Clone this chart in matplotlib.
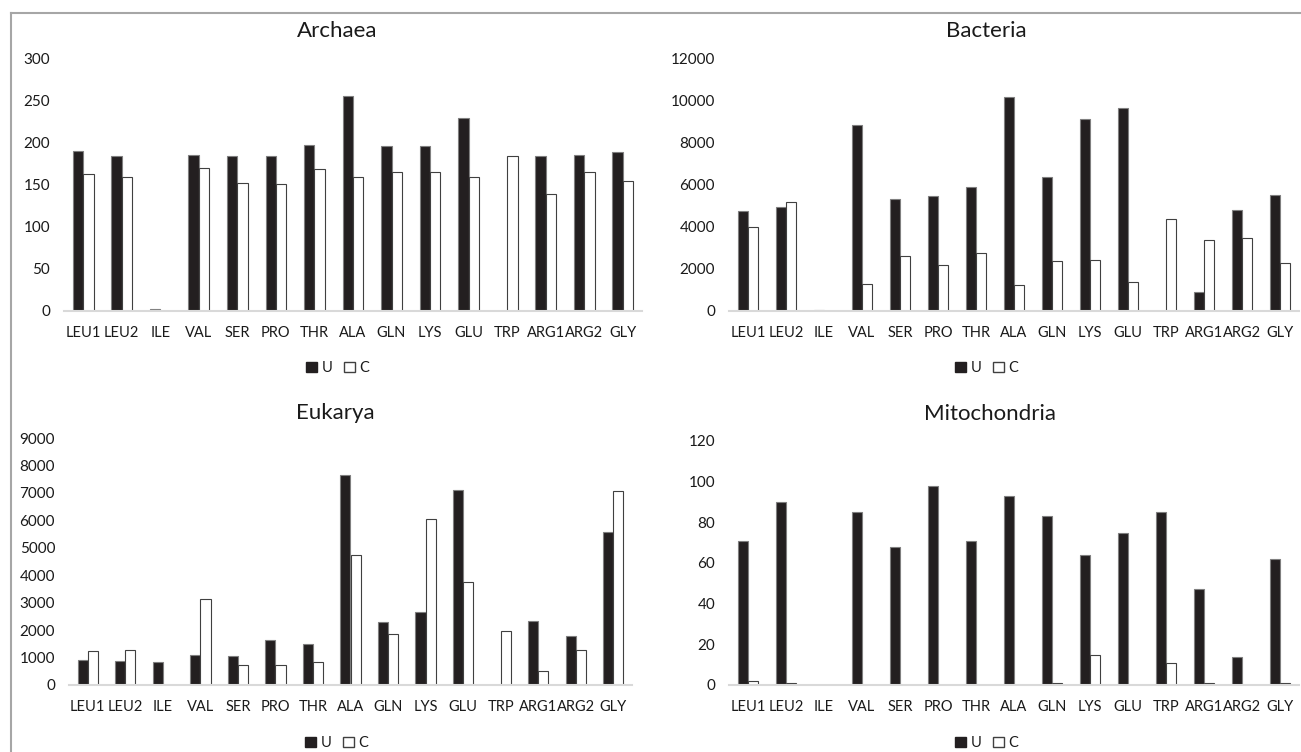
import matplotlib
matplotlib.use("Agg")
from matplotlib import pyplot as plt
from matplotlib.patches import Patch
from matplotlib.lines import Line2D
import numpy as np

plt.rcParams['font.family'] = ['Lato', 'DejaVu Sans']

codons = ["LEU1", "LEU2", "ILE", "VAL", "SER", "PRO", "THR", "ALA",
          "GLN", "LYS", "GLU", "TRP", "ARG1", "ARG2", "GLY"]

archaea_u = [191, 185, 2, 186, 184, 184, 198, 256, 196, 197, 230, 0, 185, 186, 189]
archaea_c = [163, 160, 0, 170, 152, 151, 169, 159, 165, 166, 160, 184, 139, 165, 155]

bacteria_u = [4760, 4950, 50, 8880, 5320, 5480, 5900, 10200, 6400, 9130, 9690, 0, 900, 4820, 5540]
bacteria_c = [4000, 5200, 0, 1300, 2630, 2190, 2760, 1230, 2400, 2440, 1400, 4380, 3360, 3460, 2270]

eukarya_u = [900, 870, 840, 1090, 1040, 1640, 1500, 7650, 2290, 2650, 7090, 0, 2340, 1770, 5560]
eukarya_c = [1230, 1280, 0, 3120, 740, 720, 820, 4740, 1850, 6060, 3760, 1970, 520, 1280, 7060]

mito_u = [71, 90, 0, 85, 68, 98, 71, 93, 83, 64, 75, 85, 47, 14, 62]
mito_c = [2, 1, 0, 0, 0, 0, 0, 0, 1, 15, 0, 11, 1, 0, 1]

W, H = 1301, 752
fig = plt.figure(figsize=(W / 100, H / 100), dpi=100)

# (title, u, c, ymax, step, axes box in px: left, right, zero y, top y, title xy, legend xy)
panels = [
    ("Archaea", archaea_u, archaea_c, 300, 50, (64, 642, 311, 59), (337, 31), (338, 368)),
    ("Bacteria", bacteria_u, bacteria_c, 12000, 2000, (729, 1299, 311, 59), (986, 31), (987, 368)),
    ("Eukarya", eukarya_u, eukarya_c, 9000, 1000, (69, 632, 685, 438), (335, 413), (337, 743)),
    ("Mitochondria", mito_u, mito_c, 120, 20, (729, 1299, 685, 441), (990, 414), (987, 743)),
]

txt = '#1a1a1a'
w = 0.27
x = np.arange(len(codons))

for title, u, c, ymax, step, box, tpos, lpos in panels:
    l, r, y0, y1 = box
    ax = fig.add_axes([l / W, (H - y0) / H, (r - l) / W, (y0 - y1) / H])
    ax.bar(x - w / 2, u, w, color='#231f20', edgecolor='#7f7f7f', linewidth=0.8)
    ax.bar(x + w / 2, c, w, color='white', edgecolor='#404040', linewidth=0.8)
    ax.set_xlim(-0.5, len(codons) - 0.5)
    ax.set_ylim(0, ymax)
    ax.set_yticks(np.arange(0, ymax + 1, step))
    ax.set_xticks(x)
    ax.set_xticklabels(codons)
    for s in ['top', 'right', 'left']:
        ax.spines[s].set_visible(False)
    ax.spines['bottom'].set_color('#d9d9d9')
    ax.spines['bottom'].set_linewidth(1.5)
    ax.tick_params(axis='both', length=0, labelsize=10.5, colors=txt)
    ax.tick_params(axis='y', labelsize=11, pad=10)
    ax.tick_params(axis='x', pad=11)
    fig.text(tpos[0] / W, 1 - tpos[1] / H, title, ha='center', va='center',
             fontsize=16, color=txt)
    handles = [Patch(facecolor='#231f20', edgecolor='#231f20', label='U'),
               Patch(facecolor='white', edgecolor='#404040', label='C')]
    fig.legend(handles=handles, loc='center', bbox_to_anchor=(lpos[0] / W, 1 - lpos[1] / H),
               ncol=2, frameon=False, fontsize=10.5, handlelength=0.75, handleheight=0.75,
               handletextpad=0.3, columnspacing=0.8, labelcolor=txt)

# outer frame (top and left edges only)
fig.add_artist(Line2D([11 / W, 1], [1 - 13 / H, 1 - 13 / H], color='#a6a6a6', lw=1.5))
fig.add_artist(Line2D([11 / W, 11 / W], [0, 1 - 13 / H], color='#a6a6a6', lw=1.5))

fig.savefig("out.png", dpi=100)
